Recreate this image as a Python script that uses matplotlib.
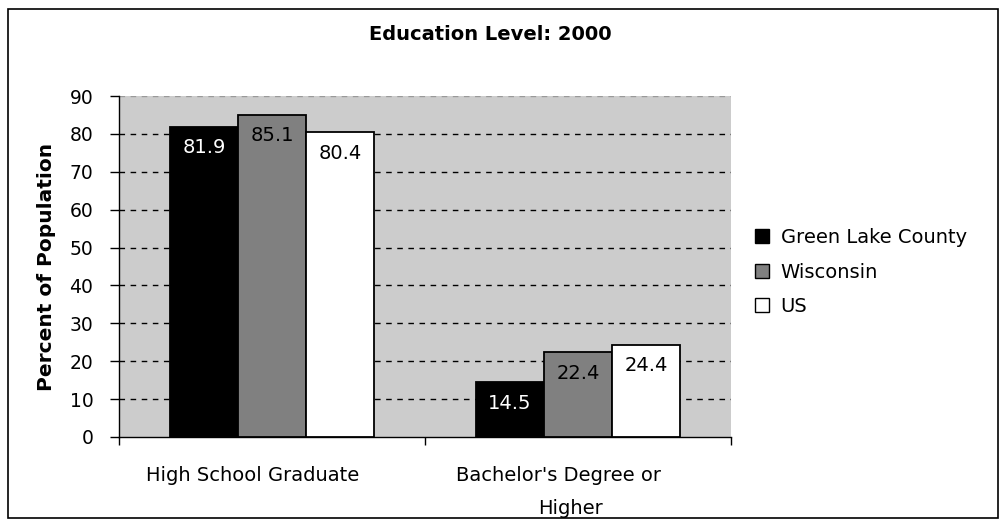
import matplotlib
matplotlib.use("Agg")
import matplotlib.pyplot as plt
import matplotlib.transforms as mtransforms
from matplotlib.patches import Rectangle, Patch
import numpy as np

categories = ["High School Graduate", "Bachelor's Degree or\nHigher"]
series_names = ["Green Lake County", "Wisconsin", "US"]
green_lake = [81.9, 14.5]
wisconsin = [85.1, 22.4]
us = [80.4, 24.4]
yticks = [0, 10, 20, 30, 40, 50, 60, 70, 80, 90]

plt.rcParams['font.family'] = ['DejaVu Sans']

fig = plt.figure(figsize=(10.06, 5.27), dpi=100)
fig.patch.set_facecolor('white')
fig.patches.append(Rectangle((8 / 1006, 9 / 527), 990 / 1006, 509 / 527,
                             transform=fig.transFigure, fill=False,
                             edgecolor='black', linewidth=1.2))

ax = fig.add_axes([119 / 1006, 90 / 527, 612 / 1006, 341 / 527])
ax.set_facecolor('#CCCCCC')

values = [green_lake, wisconsin, us]
colors = ['black', '#808080', 'white']
text_colors = ['white', 'black', 'black']
x = np.arange(len(categories))
bw = 2 / 9
for i, (vals, c, tc) in enumerate(zip(values, colors, text_colors)):
    pos = x + (i - 1) * bw
    bars = ax.bar(pos, vals, width=bw, color=c, edgecolor='black',
                  linewidth=1.3, zorder=3, label=series_names[i])
    for b, v in zip(bars, vals):
        ax.annotate(f"{v:.1f}", (b.get_x() + b.get_width() / 2, v),
                    xytext=(0, -21), textcoords='offset pixels',
                    ha='center', va='center', color=tc, fontsize=14,
                    zorder=4)

ax.set_xlim(-0.5, len(categories) - 0.5)
ax.set_ylim(0, 90)
ax.set_yticks(yticks)
ax.tick_params(axis='y', labelsize=13.5, length=6.5, width=1, direction='out', pad=12)
for yv in yticks[1:-1]:
    ax.axhline(yv, color='black', linestyle=(0, (4, 4)), linewidth=1, zorder=1)
ax.axhline(90, color='#999999', linestyle=(0, (4, 4)), linewidth=1, zorder=1)

# category boundaries as ticks, labels offset like the original
ax.set_xticks([-0.5, 0.5, 1.5])
ax.set_xticklabels([])
ax.tick_params(axis='x', length=6, width=1, direction='out')
line_shift = [-19.5, -8]
btrans = mtransforms.blended_transform_factory(ax.transData, ax.transAxes)
for i, cat in enumerate(categories):
    for j, line in enumerate(cat.split("\n")):
        t = ax.text(i, 0, line, transform=btrans, ha='center', va='top', fontsize=14)
        t.set_transform(btrans + mtransforms.ScaledTranslation(
            line_shift[j] / 100, -(29 + 32.5 * j) / 100, fig.dpi_scale_trans))

for s in ['top', 'right']:
    ax.spines[s].set_visible(False)
for s in ['left', 'bottom']:
    ax.spines[s].set_color('black')
    ax.spines[s].set_linewidth(1)

ax.set_ylabel("Percent of Population", fontsize=14.5, fontweight='bold')
ax.yaxis.set_label_coords((56 - 119) / 612, 0.5)

fig.text(490 / 1006, 1 - 35 / 527, "Education Level: 2000", ha='center', va='center',
         fontsize=14, fontweight='bold')

handles = [Patch(facecolor=c, edgecolor='black', linewidth=1) for c in colors]
fig.legend(handles, series_names, loc='upper left',
           bbox_to_anchor=(755 / 1006, 1 - 228 / 527), frameon=False,
           fontsize=14, handlelength=0.72, handleheight=0.72,
           handletextpad=0.6, labelspacing=0.8, borderpad=0, borderaxespad=0)

fig.savefig("out.png", dpi=100)
